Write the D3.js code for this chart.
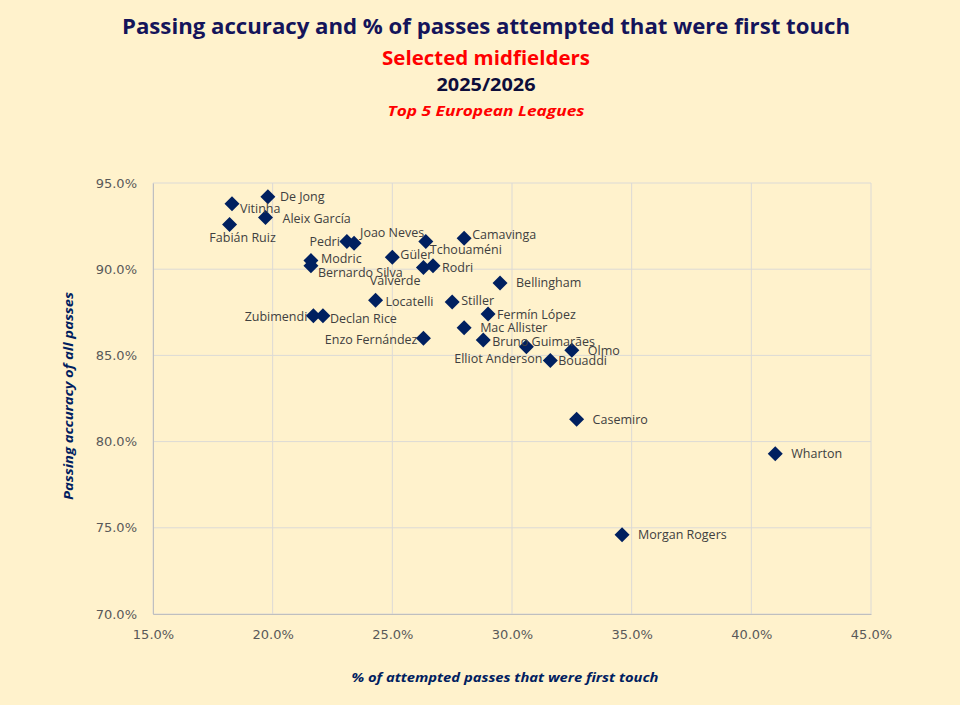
<!DOCTYPE html>
<html>
<head>
<meta charset="utf-8">
<script src="https://cdn.jsdelivr.net/npm/d3@7"></script>
<style>
  html, body { margin: 0; padding: 0; background: #fff2cc; }
  svg { display: block; }
  .tick text { font-family: 'DejaVu Sans', sans-serif; fill: #595959; }
  .lbl { font-family: 'Open Sans', sans-serif; font-size: 12.5px; fill: #404040; }
</style>
</head>
<body>
<svg id="chart" width="960" height="705"></svg>
<script>
// players and their values (x: % of first-touch passes, y: passing accuracy)
const players = [
  'Vitinha', 'De Jong', 'Fabián Ruiz', 'Aleix García', 'Pedri', 'Joao Neves',
  'Tchouaméni', 'Camavinga', 'Güler', 'Modric', 'Bernardo Silva', 'Valverde',
  'Rodri', 'Bellingham', 'Locatelli', 'Stiller', 'Zubimendi', 'Declan Rice',
  'Fermín López', 'Mac Allister', 'Enzo Fernández', 'Bruno Guimarães',
  'Elliot Anderson', 'Olmo', 'Bouaddi', 'Casemiro', 'Wharton', 'Morgan Rogers'
]
const firstTouchPct = [
  18.3, 19.8, 18.2, 19.7, 23.1, 23.4,
  26.4, 28.0, 25.0, 21.6, 21.6, 26.3,
  26.7, 29.5, 24.3, 27.5, 21.7, 22.1,
  29.0, 28.0, 26.3, 28.8,
  30.6, 32.5, 31.6, 32.7, 41.0, 34.6
]
const passAccuracy = [
  93.8, 94.2, 92.6, 93.0, 91.6, 91.5,
  91.6, 91.8, 90.7, 90.5, 90.2, 90.1,
  90.2, 89.2, 88.2, 88.1, 87.3, 87.3,
  87.4, 86.6, 86.0, 85.9,
  85.5, 85.3, 84.7, 81.3, 79.3, 74.6
]
const xTicks = [15, 20, 25, 30, 35, 40, 45]
const yTicks = [70, 75, 80, 85, 90, 95]

// label placement: [dx, dy, anchor, leader]
const labelPlace = {
  'Vitinha': [8, 5, 'start'], 'De Jong': [12, 0, 'start', true],
  'Fabián Ruiz': [13, 13, 'middle'], 'Aleix García': [17, 1, 'start'],
  'Pedri': [-7, 0, 'end'], 'Joao Neves': [6, -11, 'start'],
  'Tchouaméni': [4, 8, 'start'], 'Camavinga': [8, -4, 'start'],
  'Güler': [8, -3, 'start'], 'Modric': [10, -2, 'start', true],
  'Bernardo Silva': [7, 7, 'start'], 'Valverde': [-3, 13, 'end'],
  'Rodri': [9, 2, 'start'], 'Bellingham': [16, 0, 'start'],
  'Locatelli': [10, 1, 'start', true], 'Stiller': [9, -1, 'start'],
  'Zubimendi': [-6, 1, 'end'], 'Declan Rice': [7, 3, 'start'],
  'Fermín López': [9, 1, 'start'], 'Mac Allister': [16, 0, 'start'],
  'Enzo Fernández': [-6, 1, 'end'], 'Bruno Guimarães': [9, 2, 'start'],
  'Elliot Anderson': [16, 12, 'end'], 'Olmo': [16, 0, 'start'],
  'Bouaddi': [8, 0, 'start'], 'Casemiro': [16, 0, 'start'],
  'Wharton': [16, 0, 'start'], 'Morgan Rogers': [16, 0, 'start']
}

const navy = '#002060'
const data = players.map((name, i) => ({name, x: firstTouchPct[i], y: passAccuracy[i]}))

const svg = d3.select('#chart')
const plot = {left: 153, right: 871, top: 183, bottom: 614}

const x = d3.scaleLinear().domain([15, 45]).range([plot.left, plot.right])
const y = d3.scaleLinear().domain([70, 95]).range([plot.bottom, plot.top])
const pct = d => d.toFixed(1) + '%'

// gridlines
svg.append('g')
  .selectAll('line.vg')
  .data(xTicks)
  .join('line')
  .attr('x1', d => x(d)).attr('x2', d => x(d))
  .attr('y1', plot.top).attr('y2', plot.bottom)
  .attr('stroke', '#dcdad6').attr('stroke-width', 1)

svg.append('g')
  .selectAll('line.hg')
  .data(yTicks)
  .join('line')
  .attr('x1', plot.left).attr('x2', plot.right)
  .attr('y1', d => y(d)).attr('y2', d => y(d))
  .attr('stroke', '#dcdad6').attr('stroke-width', 1)

// axes
const xAxis = svg.append('g')
  .attr('transform', `translate(0,${plot.bottom})`)
  .call(d3.axisBottom(x).tickValues(xTicks).tickFormat(pct).tickSize(0).tickPadding(16))
xAxis.select('.domain').attr('stroke', '#bfbfbf')
xAxis.selectAll('text').style('font-size', '13px')

const yAxis = svg.append('g')
  .attr('transform', `translate(${plot.left},0)`)
  .call(d3.axisLeft(y).tickValues(yTicks).tickFormat(pct).tickSize(0).tickPadding(16))
yAxis.select('.domain').attr('stroke', '#bfbfbf')
yAxis.selectAll('text').style('font-size', '13px')

// leader lines for a few labels
svg.append('g')
  .selectAll('line')
  .data(data.filter(d => labelPlace[d.name][3]))
  .join('line')
  .attr('x1', d => x(d.x) + 1).attr('x2', d => x(d.x) + labelPlace[d.name][0] - 2)
  .attr('y1', d => y(d.y)).attr('y2', d => y(d.y))
  .attr('stroke', '#ffffff').attr('stroke-width', 1)

// markers
svg.append('g')
  .selectAll('path')
  .data(data)
  .join('path')
  .attr('transform', d => `translate(${x(d.x)},${y(d.y)})`)
  .attr('d', 'M0,-7.5L7.5,0L0,7.5L-7.5,0Z')
  .attr('fill', navy)

// labels
svg.append('g')
  .selectAll('text')
  .data(data)
  .join('text')
  .attr('class', 'lbl')
  .attr('x', d => x(d.x) + labelPlace[d.name][0])
  .attr('y', d => y(d.y) + labelPlace[d.name][1])
  .attr('dy', '0.35em')
  .attr('text-anchor', d => labelPlace[d.name][2])
  .text(d => d.name)

// titles
const titles = [
  {t: 'Passing accuracy and % of passes attempted that were first touch', y: 26, size: 22, fill: '#14145a', w: 728},
  {t: 'Selected midfielders', y: 58, size: 19, fill: '#ff0000', w: 208},
  {t: '2025/2026', y: 85, size: 18, fill: '#0d0d3a', w: 99},
  {t: 'Top 5 European Leagues', y: 111, size: 15, fill: '#ff0000', w: 197, italic: true}
]
svg.append('g')
  .selectAll('text')
  .data(titles)
  .join('text')
  .attr('x', 486)
  .attr('y', d => d.y)
  .attr('dy', '0.35em')
  .attr('text-anchor', 'middle')
  .attr('textLength', d => d.w)
  .attr('lengthAdjust', 'spacingAndGlyphs')
  .style('font-family', "'Open Sans', sans-serif")
  .style('font-weight', 'bold')
  .style('font-style', d => d.italic ? 'italic' : 'normal')
  .style('font-size', d => d.size + 'px')
  .attr('fill', d => d.fill)
  .text(d => d.t)

// axis titles
svg.append('text')
  .attr('x', 505).attr('y', 677).attr('dy', '0.35em')
  .attr('text-anchor', 'middle')
  .attr('textLength', 307).attr('lengthAdjust', 'spacingAndGlyphs')
  .style('font-family', "'Open Sans', sans-serif")
  .style('font-weight', 'bold').style('font-style', 'italic').style('font-size', '13px')
  .attr('fill', navy)
  .text('% of attempted passes that were first touch')

svg.append('text')
  .attr('transform', 'translate(68,396) rotate(-90)')
  .attr('dy', '0.35em')
  .attr('text-anchor', 'middle')
  .attr('textLength', 208).attr('lengthAdjust', 'spacingAndGlyphs')
  .style('font-family', "'Open Sans', sans-serif")
  .style('font-weight', 'bold').style('font-style', 'italic').style('font-size', '13px')
  .attr('fill', navy)
  .text('Passing accuracy of all passes')
</script>
</body>
</html>
